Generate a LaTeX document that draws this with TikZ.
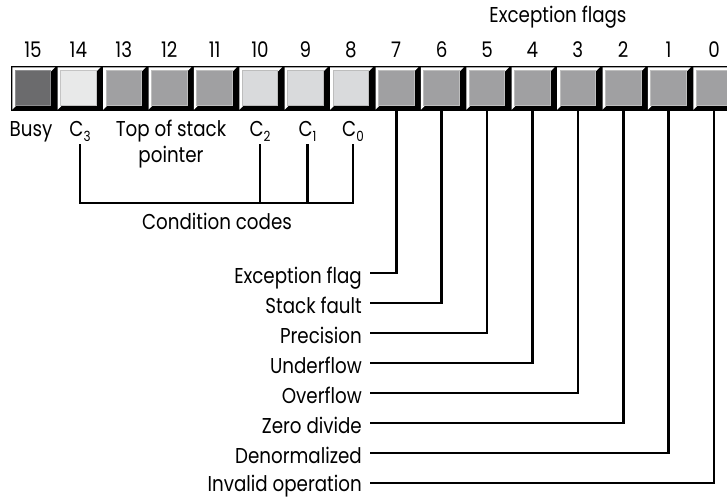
\documentclass[tikz,border=0pt]{standalone}
\usepackage{fontspec}
\setmainfont{Poppins}[FakeStretch=0.85]

% C with a lowered digit (condition-code names)
\newcommand\csub[1]{C\raisebox{-5pt}{\fontsize{14}{14}\selectfont #1}}

\definecolor{cellDark}{HTML}{6B6B6D}
\definecolor{rimDark}{HTML}{8E8E90}
\definecolor{cellPale}{HTML}{E8E9E9}
\definecolor{rimPale}{HTML}{C4C4C4}
\definecolor{cellMid}{HTML}{A0A0A2}
\definecolor{rimMid}{HTML}{BEBEBE}
\definecolor{cellLight}{HTML}{D9DADC}
\definecolor{rimLight}{HTML}{BDBDBD}

\tikzset{
  % one bevelled register cell: #1 = face colour, #2 = rim colour
  cellbox/.style 2 args={
    fill=black, minimum width=45.4pt, minimum height=45pt,
    inner sep=0pt, outer sep=0pt, anchor=north west,
    path picture={
      \fill[white]
        ([shift={(1.3pt,-1.3pt)}]path picture bounding box.north west)
        -- ([shift={(-1.3pt,-1.3pt)}]path picture bounding box.north east)
        -- ([shift={(-5pt,-5pt)}]path picture bounding box.north east)
        -- ([shift={(5pt,5pt)}]path picture bounding box.south west)
        -- ([shift={(1.3pt,1.3pt)}]path picture bounding box.south west)
        -- cycle;
      \filldraw[fill=#1, draw=#2, line width=1pt]
        ([shift={(4.3pt,-4.3pt)}]path picture bounding box.north west)
        rectangle ([shift={(-5.6pt,5.6pt)}]path picture bounding box.south east);
    }},
  bitnum/.style={anchor=base, inner sep=0pt},
  caption/.style={anchor=base, inner sep=0pt},
  ccname/.style={anchor=base, inner sep=2pt},
  flaglabel/.style={anchor=base east, inner sep=0pt, text depth=0pt},
  wire/.style={line width=2.6pt}
}

\begin{document}
\begin{tikzpicture}[x=1pt, y=-1pt, font=\fontsize{21.5}{25}\selectfont]
  \useasboundingbox (0,0) rectangle (727,497);

  % register cells and bit numbers
  \foreach \b/\f/\r in {15/cellDark/rimDark, 14/cellPale/rimPale,
      13/cellMid/rimMid, 12/cellMid/rimMid, 11/cellMid/rimMid,
      10/cellLight/rimLight, 9/cellLight/rimLight, 8/cellLight/rimLight,
      7/cellMid/rimMid, 6/cellMid/rimMid, 5/cellMid/rimMid, 4/cellMid/rimMid,
      3/cellMid/rimMid, 2/cellMid/rimMid, 1/cellMid/rimMid, 0/cellMid/rimMid} {
    \pgfmathsetmacro\xl{11+45.4*(15-\b)}
    \node[cellbox={\f}{\r}] (c\b) at (\xl,66) {};
    \node[bitnum] (n\b) at (\xl+22,58) {\b};
  }

  \node[caption] (exc) at (558,23) {Exception flags};

  % names under the upper byte
  \node[caption] (busy) at (31,137) {Busy};
  \node[ccname] (lc3) at (80,137) {\csub{3}};
  \node[caption] (tos) at (171,137) {Top of stack};
  \node[caption] (tosb) at (171,162) {pointer};
  \node[ccname] (lc2) at (260,137) {\csub{2}};
  \node[ccname] (lc1) at (307.5,137) {\csub{1}};
  \node[ccname] (lc0) at (353,137) {\csub{0}};

  % condition-code bracket
  \coordinate (ccbar) at (217,203);
  \draw[wire] (lc3.south) |- (ccbar) -| (lc0.south);
  \draw[wire] (lc2.south) -- (lc2.south |- ccbar);
  \draw[wire] (lc1.south) -- (lc1.south |- ccbar);
  \node[caption] (cc) at (217,229) {Condition codes};

  % exception flag leaders (\d = rise of the leader above the baseline)
  \foreach \b/\t/\y/\d in {7/Exception flag/273/10, 6/Stack fault/303/10,
      5/Precision/333/10, 4/Underflow/363/10, 3/Overflow/393/10,
      2/Zero divide/423/10, 1/Denormalized/453/10, 0/Invalid operation/483/8} {
    \node[flaglabel] (f\b) at (362,\y+\d) {\t};
    \draw[wire] ([shift={(8pt,\d pt)}]f\b.base east) -| ([xshift=-0.7pt]c\b.south);
  }
\end{tikzpicture}
\end{document}
